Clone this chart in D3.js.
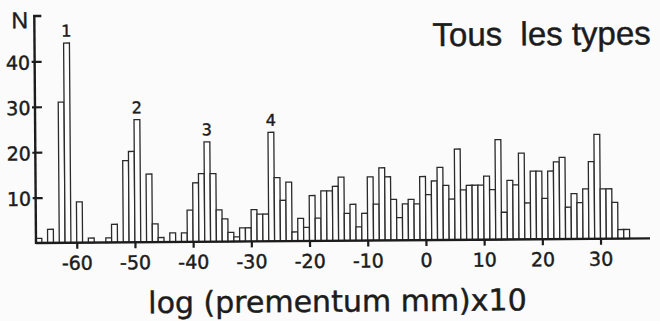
<!DOCTYPE html>
<html>
<head>
<meta charset="utf-8">
<script src="https://cdn.jsdelivr.net/npm/d3@7"></script>
<style>
  body { margin: 0; background: #fbfbfb; }
  svg { display: block; }
  text { stroke: #1c1c1c; stroke-width: 0.45px; }
</style>
</head>
<body>
<script>
const WIDTH = 660;
const HEIGHT = 321;
const INK = "#1c1c1c";
const TILT = -0.43; // the scanned figure sits slightly rotated

// histogram: one bin per unit of log(prementum mm)x10, left edges -67 .. 34
const binStarts = d3.range(-67, 35);
const counts = [
  1, 0, 3, 0, 31, 44, 0, 9, 0, 1,
  0, 0, 1, 4, 0, 18, 20, 27, 0, 15,
  4, 1, 0, 2, 0, 2, 7, 13, 15, 22,
  15, 7, 5, 2, 1, 3, 3, 7, 6, 6,
  24, 14, 9, 13, 2, 5, 3, 10, 5, 11,
  11, 12, 14, 6, 8, 3, 6, 14, 8, 16,
  14, 9, 5, 8, 9, 8, 14, 10, 13, 16,
  12, 9, 20, 11, 12, 12, 12, 14, 11, 22,
  6, 13, 12, 19, 8, 15, 15, 9, 15, 17,
  18, 7, 10, 8, 11, 17, 23, 11, 11, 8,
  2, 2
];

const xTicks = [-60, -50, -40, -30, -20, -10, 0, 10, 20, 30];
const yTicks = [10, 20, 30, 40];
const peakLabels = ["1", "2", "3", "4"];
const peakBins = [-62, -50, -38, -27];

const data = binStarts.map((b, i) => ({ bin: b, n: counts[i] }));

const x = d3.scaleLinear().domain([-67, 38.5]).range([36, 650]);
const y = d3.scaleLinear().domain([0, 50]).range([243, 16]);

const svg = d3
  .select("body")
  .append("svg")
  .attr("width", WIDTH)
  .attr("height", HEIGHT)
  .attr("xmlns", "http://www.w3.org/2000/svg");

const root = svg
  .append("g")
  .attr("transform", `rotate(${TILT},${x(-67)},${y(0)})`);

// bars
root
  .append("g")
  .selectAll("rect")
  .data(data.filter((d) => d.n > 0))
  .join("rect")
  .attr("x", (d) => x(d.bin))
  .attr("y", (d) => y(d.n))
  .attr("width", (d) => x(d.bin + 1) - x(d.bin))
  .attr("height", (d) => y(0) - y(d.n))
  .attr("fill", "#fdfdfd")
  .attr("stroke", "#2a2a2a")
  .attr("stroke-width", 1.3);

// x axis
const gx = root
  .append("g")
  .attr("transform", `translate(0,${y(0)})`)
  .call(
    d3
      .axisBottom(x)
      .tickValues(xTicks)
      .tickFormat((d) => String(d))
      .tickSize(6)
      .tickPadding(7.5)
  )
  .attr("font-family", "'DejaVu Sans', sans-serif")
  .attr("font-size", 19);
gx.select(".domain").remove();
gx.selectAll(".tick line").attr("stroke", INK).attr("stroke-width", 2.2);
gx.selectAll(".tick text").attr("fill", INK);

// y axis
const gy = root
  .append("g")
  .attr("transform", `translate(${x(-67)},0)`)
  .call(d3.axisLeft(y).tickValues(yTicks).tickSize(3).tickPadding(1.5))
  .attr("font-family", "'DejaVu Sans', sans-serif")
  .attr("font-size", 19);
gy.select(".domain").remove();
gy.selectAll(".tick line")
  .attr("x1", 7)
  .attr("stroke", INK)
  .attr("stroke-width", 2.2);
gy.selectAll(".tick text").attr("dy", "0.4em").attr("fill", INK);

// axis lines
root
  .append("line")
  .attr("x1", x(-67))
  .attr("x2", x(38.5))
  .attr("y1", y(0))
  .attr("y2", y(0))
  .attr("stroke", INK)
  .attr("stroke-width", 2.4);
root
  .append("line")
  .attr("x1", x(-67))
  .attr("x2", x(-67))
  .attr("y1", y(0) + 1)
  .attr("y2", y(50))
  .attr("stroke", INK)
  .attr("stroke-width", 2.4);
root
  .append("line")
  .attr("x1", x(-67) - 1.2)
  .attr("x2", x(-67) + 7)
  .attr("y1", y(50))
  .attr("y2", y(50))
  .attr("stroke", INK)
  .attr("stroke-width", 2.4);

// peak numbers
root
  .append("g")
  .selectAll("text")
  .data(peakLabels)
  .join("text")
  .attr("x", (d, i) => x(peakBins[i] + 0.5))
  .attr("y", (d, i) => y(counts[binStarts.indexOf(peakBins[i])]) - 6.5)
  .attr("text-anchor", "middle")
  .attr("font-family", "'DejaVu Sans', sans-serif")
  .attr("font-size", 16)
  .attr("fill", INK)
  .text((d) => d);

// texts
root
  .append("text")
  .attr("x", 13)
  .attr("y", 28)
  .attr("font-family", "'Liberation Sans', Arial, sans-serif")
  .attr("font-size", 23)
  .attr("fill", INK)
  .text("N");

root
  .append("text")
  .attr("x", 434)
  .attr("y", 49)
  .attr("font-family", "'Liberation Sans', Arial, sans-serif")
  .attr("font-size", 33)
  .attr("fill", INK)
  .style("white-space", "pre")
  .text("Tous  les types");

root
  .append("text")
  .attr("x", 337)
  .attr("y", 314)
  .attr("text-anchor", "middle")
  .attr("font-family", "'DejaVu Sans', sans-serif")
  .attr("font-size", 30)
  .attr("fill", INK)
  .text("log (prementum mm)x10");
</script>
</body>
</html>
